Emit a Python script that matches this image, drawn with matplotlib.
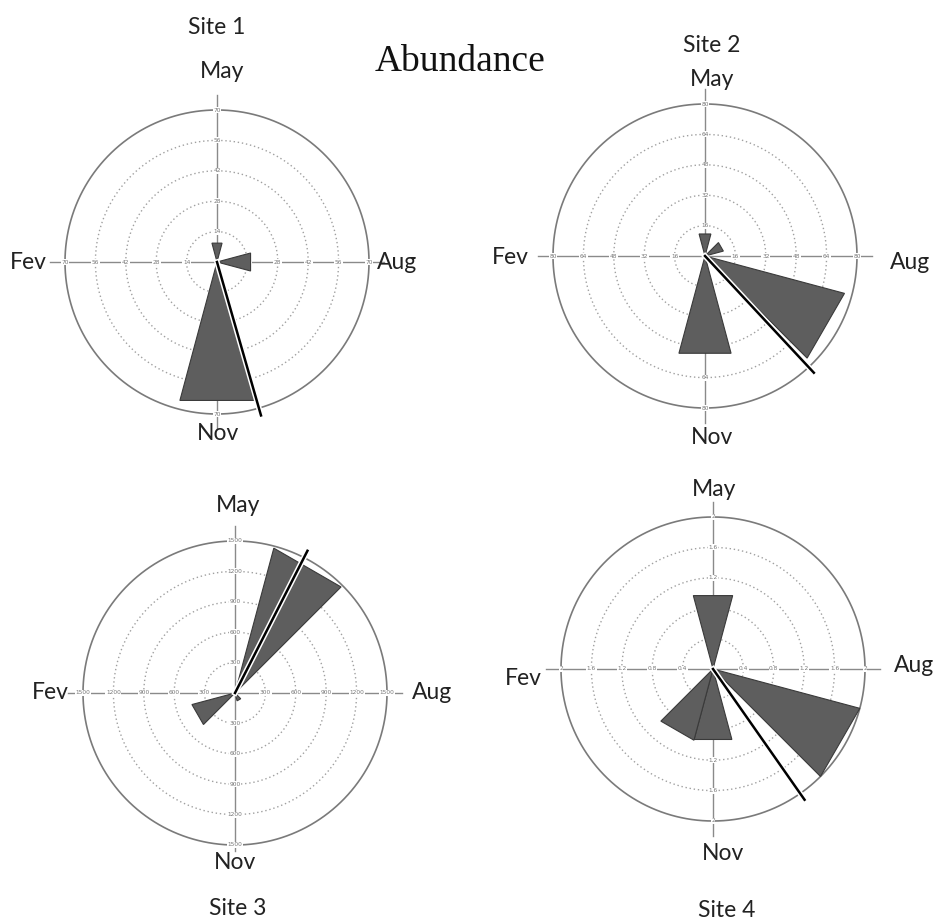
import numpy as np
import matplotlib.pyplot as plt
import matplotlib.patheffects as pe

W, H = 944, 922

# months clockwise from the top of each rose, 30 degrees apart
months = ['May', 'Jun', 'Jul', 'Aug', 'Sep', 'Oct', 'Nov', 'Dec', 'Jan', 'Fev', 'Mar', 'Apr']

site1 = [9, 0, 0, 16, 0, 0, 66, 0, 0, 0, 0, 0]
site2 = [12, 0, 10, 0, 76, 0, 53, 0, 0, 0, 0, 0]
site3 = [0, 1480, 0, 0, 0, 80, 0, 0, 440, 0, 0, 0]
site4 = [1.0, 0, 0, 0, 2.0, 0, 0.96, 0.97, 0, 0, 0, 0]

mean_angle = [164, 137, 27, 145]
scale_max = [70, 80, 1500, 2]
ring_labels = [['14', '28', '42', '56', '70'],
               ['16', '32', '48', '64', '80'],
               ['300', '600', '900', '1200', '1500'],
               ['0.4', '0.8', '1.2', '1.6', '2']]
site_names = ['Site 1', 'Site 2', 'Site 3', 'Site 4']

# pixel centres and radius of each rose
centres = [(217, 262), (705, 256), (235, 693), (713, 669)]
R = 152
half = 1.25 * R

sans = ['Lato', 'DejaVu Sans']

fig = plt.figure(figsize=(W / 100, H / 100), dpi=100)


def ftext(px, py, s, **kw):
    fig.text(px / W, 1 - py / H, s, ha='center', va='center', **kw)


def rose(ax, values, vmax, labels, mang, arm=1.1):
    th = np.linspace(0, 2 * np.pi, 361)
    ax.plot(np.sin(th), np.cos(th), color='#7a7a7a', lw=1.2, zorder=2)
    for k in range(1, 5):
        r = k / 5
        ax.plot(r * np.sin(th), r * np.cos(th), color='#a0a0a0', lw=1.0,
                ls=(0, (1, 2)), zorder=1)
    ax.plot([-1.1, 1.1], [0, 0], color='#8a8a8a', lw=1.0, zorder=1)
    ax.plot([0, 0], [-arm, 1.1], color='#8a8a8a', lw=1.0, zorder=1)

    # ring values written along the four arms
    for k, lab in enumerate(labels):
        r = (k + 1) / 5
        for dx, dy in [(r, 0), (-r, 0), (0, r), (0, -r)]:
            ax.text(dx, dy, lab, fontsize=4.2, color='#777777', ha='center',
                    va='center', zorder=3,
                    bbox=dict(boxstyle='square,pad=0.1', fc='white', ec='none'))

    # straight-edged month wedges
    for i, v in enumerate(values):
        if v <= 0:
            continue
        r = v / vmax
        a0 = np.radians(i * 30 - 15)
        a1 = np.radians(i * 30 + 15)
        xs = [0, r * np.sin(a0), r * np.sin(a1)]
        ys = [0, r * np.cos(a0), r * np.cos(a1)]
        ax.fill(xs, ys, facecolor='#5e5e5e', edgecolor='#3a3a3a', lw=0.8, zorder=4)

    # mean vector
    a = np.radians(mang)
    ax.plot([0, 1.05 * np.sin(a)], [0, 1.05 * np.cos(a)], color='black', lw=1.8,
            zorder=5, path_effects=[pe.Stroke(linewidth=4, foreground='white'), pe.Normal()])

    ax.set_xlim(-1.25, 1.25)
    ax.set_ylim(-1.25, 1.25)
    ax.set_aspect('equal')
    ax.axis('off')


data = [site1, site2, site3, site4]
arms = [1.1, 1.1, 1.04, 1.1]
for j in range(4):
    cx, cy = centres[j]
    ax = fig.add_axes([(cx - half) / W, 1 - (cy + half) / H, 2 * half / W, 2 * half / H])
    rose(ax, data[j], scale_max[j], ring_labels[j], mean_angle[j], arms[j])

# month labels around each rose: May, Aug, Nov, Fev
month_pos = [
    [(222, 71), (397, 262), (218, 433), (28, 262)],
    [(712, 80), (910, 262), (712, 437), (510, 258)],
    [(238, 505), (432, 692), (235, 862), (50, 692)],
    [(714, 489), (914, 665), (723, 853), (523, 678)],
]
for j in range(4):
    for (px, py), m in zip(month_pos[j], ['May', 'Aug', 'Nov', 'Fev']):
        ftext(px, py, m, fontsize=16.5, family=sans, color='#222222')

title_pos = [(217, 27), (712, 45), (238, 908), (727, 910)]
for (px, py), s in zip(title_pos, site_names):
    ftext(px, py, s, fontsize=16.5, family=sans, color='#222222')

ftext(460, 62, 'Abundance', fontsize=27, family=['Liberation Serif', 'DejaVu Serif'],
      color='#111111')

fig.savefig('out.png', dpi=100, facecolor='white')
